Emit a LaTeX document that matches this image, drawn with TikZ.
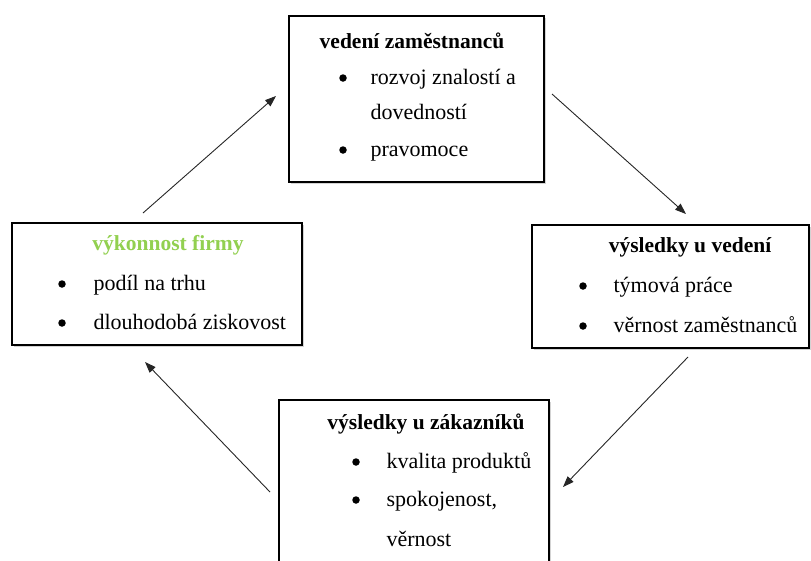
\documentclass[tikz,border=0pt]{standalone}
\usepackage{fontspec}
\setmainfont{Liberation Serif}
\usetikzlibrary{arrows.meta,shadows}
\definecolor{perfgreen}{RGB}{146,208,80}
\tikzset{
  box/.style={draw, line width=1.3pt, fill=white, inner sep=0pt,
    drop shadow={shadow xshift=2pt, shadow yshift=-2pt, opacity=0.35}},
  head/.style={anchor=mid, yshift=-4pt, font=\rmfamily\fontsize{21.5}{26}\selectfont\bfseries},
  item/.style={anchor=mid west, yshift=-4pt, font=\rmfamily\fontsize{22}{26}\selectfont},
  dot/.style={circle, fill=black, inner sep=0pt, minimum size=7.5pt},
  flow/.style={-{Triangle[length=11pt,width=8pt]}, line width=0.9pt, draw=black!85}
}
\begin{document}
\begin{tikzpicture}[x=1pt,y=-1pt]
        \clip (0,0) rectangle (811,560);

        % Boxes
        \node[box, minimum width=255pt, minimum height=166pt] (lead) at (416.5,99) {};
        \node[box, minimum width=290pt, minimum height=122pt] (perf) at (157,284) {};
        \node[box, minimum width=277pt, minimum height=123pt] (mgmt) at (670.5,286.5) {};
        \node[box, minimum width=270pt, minimum height=175pt] (cust) at (414,487.5) {};

        % vedeni zamestnancu
        \node[head] (lead-t) at (412,42) {vedení zaměstnanců};
        \node[dot] (lead-d1) at (343,78) {};
        \node[item] (lead-i1) at (367,78) {rozvoj znalostí a};
        \node[item] (lead-i2) at (367,113) {dovedností};
        \node[dot] (lead-d2) at (343,150) {};
        \node[item] (lead-i3) at (367,150) {pravomoce};

        % vykonnost firmy
        \node[head, text=perfgreen] (perf-t) at (168,244) {výkonnost firmy};
        \node[dot] (perf-d1) at (62,284) {};
        \node[item] (perf-i1) at (90,284) {podíl na trhu};
        \node[dot] (perf-d2) at (62,323) {};
        \node[item] (perf-i2) at (90,323) {dlouhodobá ziskovost};

        % vysledky u vedeni
        \node[head] (mgmt-t) at (690,246) {výsledky u vedení};
        \node[dot] (mgmt-d1) at (583,286) {};
        \node[item] (mgmt-i1) at (610,286) {týmová práce};
        \node[dot] (mgmt-d2) at (583,326) {};
        \node[item] (mgmt-i2) at (610,326) {věrnost zaměstnanců};

        % vysledky u zakazniku
        \node[head] (cust-t) at (426,423) {výsledky u zákazníků};
        \node[dot] (cust-d1) at (356,462) {};
        \node[item] (cust-i1) at (383,462) {kvalita produktů};
        \node[dot] (cust-d2) at (356,500) {};
        \node[item] (cust-i2) at (383,500) {spokojenost,};
        \node[item] (cust-i3) at (383,540) {věrnost};

        % Arrows
        \coordinate (perf-out) at (143,213);
        \coordinate (lead-in) at (276,96);
        \coordinate (lead-out) at (552,94);
        \coordinate (mgmt-in) at (686,214);
        \coordinate (mgmt-out) at (688,357);
        \coordinate (cust-in) at (563,487);
        \coordinate (cust-out) at (270,492);
        \coordinate (perf-in) at (145,362);
        \draw[flow] (perf-out) -- (lead-in);
        \draw[flow] (lead-out) -- (mgmt-in);
        \draw[flow] (mgmt-out) -- (cust-in);
        \draw[flow] (cust-out) -- (perf-in);
      \end{tikzpicture}
\end{document}
